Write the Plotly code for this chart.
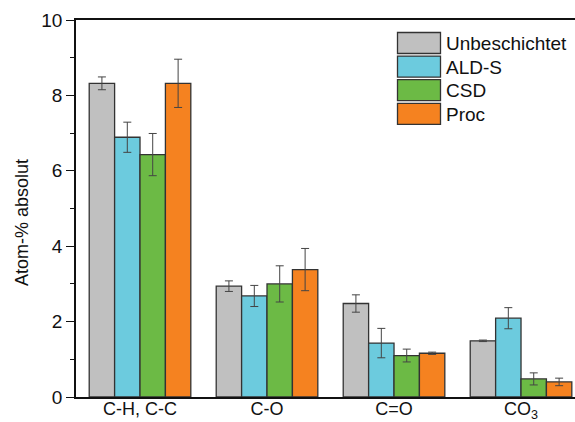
import plotly.graph_objects as go

# Surface composition (XPS) per bonding type and sample
categories = ["C-H, C-C", "C-O", "C=O", "CO<sub>3</sub>"]
series_names = ["Unbeschichtet", "ALD-S", "CSD", "Proc"]
series_colors = ["#C0C0C0", "#6CCBDE", "#6CBA45", "#F58220"]

unbeschichtet = [8.32, 2.94, 2.48, 1.49]
unbeschichtet_err = [0.17, 0.14, 0.23, 0.02]
ald_s = [6.89, 2.68, 1.43, 2.09]
ald_s_err = [0.40, 0.28, 0.39, 0.28]
csd = [6.43, 3.00, 1.10, 0.48]
csd_err = [0.56, 0.48, 0.17, 0.16]
proc = [8.32, 3.38, 1.16, 0.40]
proc_err = [0.64, 0.56, 0.03, 0.10]

values = [unbeschichtet, ald_s, csd, proc]
errors = [unbeschichtet_err, ald_s_err, csd_err, proc_err]

FONT = "Arial, Liberation Sans, sans-serif"
W, H = 575, 422
ML, MT, MB, MR = 76, 20, 25, 0

fig = go.Figure()
for name, color, v, e in zip(series_names, series_colors, values, errors):
    fig.add_trace(go.Bar(
        name=name, x=categories, y=v,
        marker=dict(color=color, line=dict(color="#333333", width=1.3)),
        error_y=dict(type="data", array=e, visible=True,
                     color="#444444", thickness=1, width=4),
        showlegend=False,
    ))

# Legend drawn as large swatches with labels
plot_w = W - ML - MR
plot_h = H - MT - MB
def px_x(px):
    return (px - ML) / plot_w
def px_y(py):
    return (H - MB - py) / plot_h

shapes = []
annotations = []
row_top = 32.5
pitch = 23.6
for i, (name, color) in enumerate(zip(series_names, series_colors)):
    y0 = row_top + i * pitch
    y1 = y0 + 21
    shapes.append(dict(type="rect", xref="paper", yref="paper",
                       x0=px_x(397.5), x1=px_x(440.5), y0=px_y(y1), y1=px_y(y0),
                       fillcolor=color, line=dict(color="#333333", width=1.3)))
    annotations.append(dict(xref="paper", yref="paper", x=px_x(444), y=px_y((y0 + y1) / 2 + 0.5),
                            text=name, showarrow=False, xanchor="left", yanchor="middle",
                            font=dict(family=FONT, size=19, color="#111111")))

# Y-axis title
annotations.append(dict(xref="paper", yref="paper", x=px_x(22), y=px_y(223),
                        text="Atom-% absolut", showarrow=False, textangle=-90,
                        xanchor="center", yanchor="middle",
                        font=dict(family=FONT, size=18, color="#111111")))

fig.update_layout(
    width=W, height=H,
    margin=dict(l=ML, r=MR, t=MT, b=MB, pad=0, autoexpand=False),
    paper_bgcolor="white", plot_bgcolor="white",
    barmode="group", bargap=0.2, bargroupgap=0,
    shapes=shapes, annotations=annotations,
    font=dict(family=FONT, size=18, color="#111111"),
)
fig.update_xaxes(
    range=[-0.504, 3.425], automargin=False,
    showline=True, linecolor="#111111", linewidth=1.5, mirror=True,
    ticks="", showgrid=False, tickfont=dict(size=18), ticklabelstandoff=-5,
)
fig.update_yaxes(
    range=[0, 10], dtick=2, tick0=0, automargin=False,
    showline=True, linecolor="#111111", linewidth=1.5,
    ticks="outside", ticklen=8, tickwidth=1.3, tickcolor="#111111",
    minor=dict(dtick=1, ticks="outside", ticklen=4, tickwidth=1.3, tickcolor="#111111"),
    showgrid=False, zeroline=False, tickfont=dict(size=19),
)

fig.write_html("out.html")
